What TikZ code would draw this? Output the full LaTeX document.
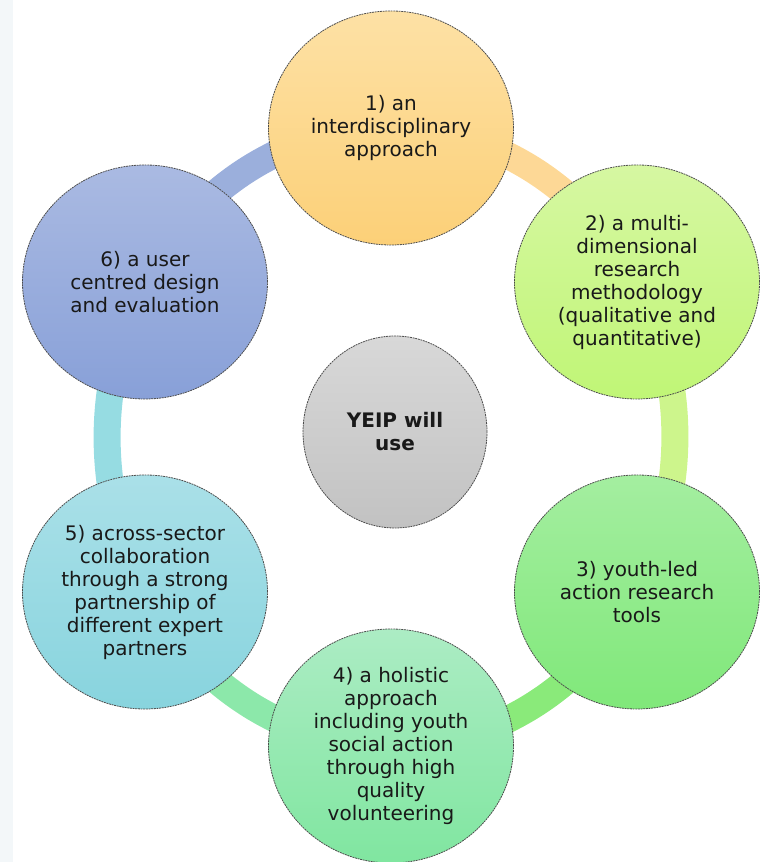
\documentclass[tikz,border=0pt]{standalone}
\usepackage{fontspec}
\setmainfont{DejaVu Sans}
\usetikzlibrary{shapes.geometric,backgrounds}

\definecolor{oneTop}{RGB}{253,225,165}
\definecolor{oneBot}{RGB}{252,208,120}
\definecolor{oneBand}{RGB}{253,216,150}
\definecolor{twoTop}{RGB}{214,247,162}
\definecolor{twoBot}{RGB}{192,246,118}
\definecolor{twoBand}{RGB}{205,245,140}
\definecolor{threeTop}{RGB}{164,238,160}
\definecolor{threeBot}{RGB}{128,232,122}
\definecolor{threeBand}{RGB}{138,234,122}
\definecolor{fourTop}{RGB}{172,236,196}
\definecolor{fourBot}{RGB}{128,230,160}
\definecolor{fourBand}{RGB}{140,232,170}
\definecolor{fiveTop}{RGB}{170,224,232}
\definecolor{fiveBot}{RGB}{136,212,222}
\definecolor{fiveBand}{RGB}{150,220,226}
\definecolor{sixTop}{RGB}{170,186,226}
\definecolor{sixBot}{RGB}{136,160,216}
\definecolor{sixBand}{RGB}{155,175,220}
\definecolor{hubTop}{RGB}{216,216,216}
\definecolor{hubBot}{RGB}{194,194,194}
\definecolor{sideStrip}{RGB}{243,247,249}

\tikzset{
  yeip/.style={
    x=0.75pt, y=0.75pt,
    every node/.style={
        ellipse,
        draw=black!70,
        dash pattern=on 1.4pt off 0.6pt,
        line width=0.6pt,
        minimum width=183.75pt,
        minimum height=175.5pt,
        inner sep=0pt,
        align=center,
        text=black!90,
        font=\fontsize{15}{17.25}\selectfont,
    },
    hub/.style={
        minimum width=138pt,
        minimum height=144pt,
        top color=hubTop,
        bottom color=hubBot,
        font=\bfseries\fontsize{15}{17.25}\selectfont,
    },
    band/.style={line width=20.25pt},
  }
}

\begin{document}
\begin{tikzpicture}[yeip]
    \useasboundingbox (0,0) rectangle (760,862);
    \coordinate (ring) at (391,425);
    \node[hub] (hub) at (395,430) {YEIP will\\use};
    \node[top color=oneTop, bottom color=oneBot] (c1) at (391,734)
        {1) an\\interdisciplinary\\approach};
    \node[top color=twoTop, bottom color=twoBot] (c2) at (637,580)
        {2) a multi-\\dimensional\\research\\methodology\\(qualitative and\\quantitative)};
    \node[top color=threeTop, bottom color=threeBot] (c3) at (637,270)
        {3) youth-led\\action research\\tools};
    \node[top color=fourTop, bottom color=fourBot] (c4) at (391,116)
        {4) a holistic\\approach\\including youth\\social action\\through high\\quality\\volunteering};
    \node[top color=fiveTop, bottom color=fiveBot] (c5) at (145,270)
        {5) across-sector\\collaboration\\through a strong\\partnership of\\different expert\\partners};
    \node[top color=sixTop, bottom color=sixBot] (c6) at (145,580)
        {6) a user\\centred design\\and evaluation};

    \begin{scope}[on background layer]
        \fill[sideStrip] (0,0) rectangle (12.5,862);
        % ring between the circles
        \draw[band, oneBand] (c1.center) arc[start angle=90, end angle=30, x radius=283, y radius=309];
        \draw[band, twoBand] (c2.center) arc[start angle=30, end angle=-30, x radius=283, y radius=309];
        \draw[band, threeBand] (c3.center) arc[start angle=-30, end angle=-90, x radius=283, y radius=309];
        \draw[band, fourBand] (c4.center) arc[start angle=-90, end angle=-150, x radius=283, y radius=309];
        \draw[band, fiveBand] (c5.center) arc[start angle=-150, end angle=-210, x radius=283, y radius=309];
        \draw[band, sixBand] (c6.center) arc[start angle=150, end angle=90, x radius=283, y radius=309];
    \end{scope}
\end{tikzpicture}
\end{document}
